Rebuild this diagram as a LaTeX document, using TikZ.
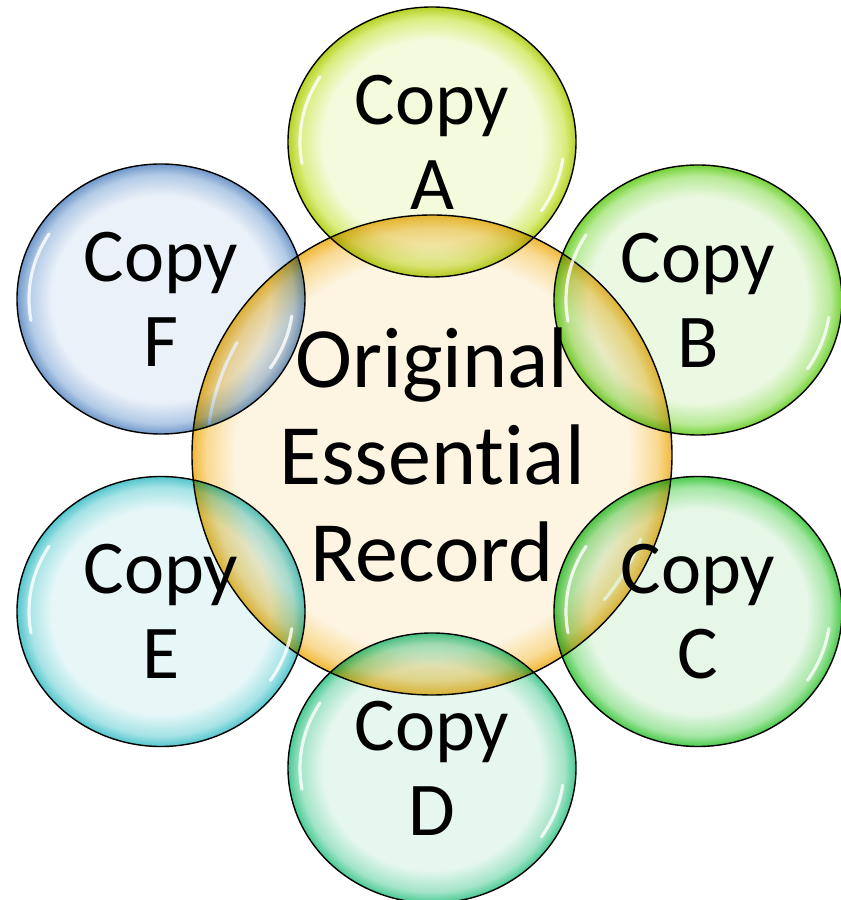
\documentclass[tikz,border=0pt]{standalone}
\usepackage{fontspec}
\setmainfont{Carlito}[Ligatures=NoCommon]
\usetikzlibrary{shapes.geometric}

% bubble colours: pale interior, saturated rim
\definecolor{inO}{HTML}{FDF4E2}\definecolor{midO}{HTML}{F9DA92}\definecolor{outO}{HTML}{F0B838}
\definecolor{inA}{HTML}{F4FADC}\definecolor{midA}{HTML}{DAED80}\definecolor{outA}{HTML}{B6D224}
\definecolor{inB}{HTML}{EBF8E2}\definecolor{midB}{HTML}{B8EA96}\definecolor{outB}{HTML}{74D236}
\definecolor{inC}{HTML}{E6F7E7}\definecolor{midC}{HTML}{A4E6A4}\definecolor{outC}{HTML}{4ACB4A}
\definecolor{inD}{HTML}{E5F7EF}\definecolor{midD}{HTML}{A2E4C6}\definecolor{outD}{HTML}{48CA94}
\definecolor{inE}{HTML}{E7F7F8}\definecolor{midE}{HTML}{A6E3E6}\definecolor{outE}{HTML}{52C6CC}
\definecolor{inF}{HTML}{EBF1F9}\definecolor{midF}{HTML}{B3CBE6}\definecolor{outF}{HTML}{7098CA}

\pgfdeclareradialshading{bubO}{\pgfpoint{0bp}{0bp}}{color(0bp)=(inO); color(20.5bp)=(inO); color(23.5bp)=(midO); color(25bp)=(outO); color(50bp)=(outO)}
\pgfdeclareradialshading{bubA}{\pgfpoint{0bp}{0bp}}{color(0bp)=(inA); color(19bp)=(inA); color(23bp)=(midA); color(25bp)=(outA); color(50bp)=(outA)}
\pgfdeclareradialshading{bubB}{\pgfpoint{0bp}{0bp}}{color(0bp)=(inB); color(19bp)=(inB); color(23bp)=(midB); color(25bp)=(outB); color(50bp)=(outB)}
\pgfdeclareradialshading{bubC}{\pgfpoint{0bp}{0bp}}{color(0bp)=(inC); color(19bp)=(inC); color(23bp)=(midC); color(25bp)=(outC); color(50bp)=(outC)}
\pgfdeclareradialshading{bubD}{\pgfpoint{0bp}{0bp}}{color(0bp)=(inD); color(19bp)=(inD); color(23bp)=(midD); color(25bp)=(outD); color(50bp)=(outD)}
\pgfdeclareradialshading{bubE}{\pgfpoint{0bp}{0bp}}{color(0bp)=(inE); color(19bp)=(inE); color(23bp)=(midE); color(25bp)=(outE); color(50bp)=(outE)}
\pgfdeclareradialshading{bubF}{\pgfpoint{0bp}{0bp}}{color(0bp)=(inF); color(19bp)=(inF); color(23bp)=(midF); color(25bp)=(outF); color(50bp)=(outF)}

\tikzset{
  bubble/.style={ellipse, draw=black, line width=1.4pt, inner sep=0pt, outer sep=0pt},
  copybubble/.style={bubble, minimum width=288pt, minimum height=270pt},
  copytext/.style={font=\fontsize{76}{85}\selectfont, align=center, inner sep=0pt, text=black},
  maintext/.style={font=\fontsize{86}{97}\selectfont, align=center, inner sep=0pt, text=black},
  glintline/.style={white, line width=3.2pt, line cap=round, opacity=0.8}
}

% white highlight arc inside a bubble: node, x radius, y radius, start, end
\newcommand\bubbleglint[5]{%
  \draw[glintline] ([shift={(#4:#2 and #3)}]#1.center)
    arc[start angle=#4, end angle=#5, x radius=#2, y radius=#3];}

\begin{document}
\begin{tikzpicture}[x=1pt, y=1pt]
  \useasboundingbox (0,0) rectangle (841,900);

  % central record
  \node[bubble, shading=bubO, shade, minimum size=480pt] (O) at (432,445) {};
  \bubbleglint{O}{225pt}{225pt}{150}{172}
  \bubbleglint{O}{225pt}{225pt}{-22}{-40}

  % surrounding copies, see-through where they cross the centre
  \begin{scope}[blend mode=multiply]
    \node[copybubble, shading=bubA, shade] (A) at (432,758) {};
    \node[copybubble, shading=bubB, shade] (B) at (698,600) {};
    \node[copybubble, shading=bubC, shade] (C) at (698,288.5) {};
    \node[copybubble, shading=bubD, shade] (D) at (432,132) {};
    \node[copybubble, shading=bubE, shade] (E) at (161,288.5) {};
    \node[copybubble, shading=bubF, shade] (F) at (161,601) {};
  \end{scope}

  \foreach \b in {A,B,C,D,E,F}{
    \bubbleglint{\b}{132pt}{123pt}{148}{190}
    \bubbleglint{\b}{132pt}{123pt}{-8}{-34}
  }

  % labels
  \node[maintext] (tO) at (O) {Original\\Essential\\Record};
  \node[copytext] (tA) at (A) {Copy\\A};
  \node[copytext] (tB) at (B) {Copy\\B};
  \node[copytext] (tC) at (C) {Copy\\C};
  \node[copytext] (tD) at (D) {Copy\\D};
  \node[copytext] (tE) at (E) {Copy\\E};
  \node[copytext] (tF) at (F) {Copy\\F};
\end{tikzpicture}
\end{document}
